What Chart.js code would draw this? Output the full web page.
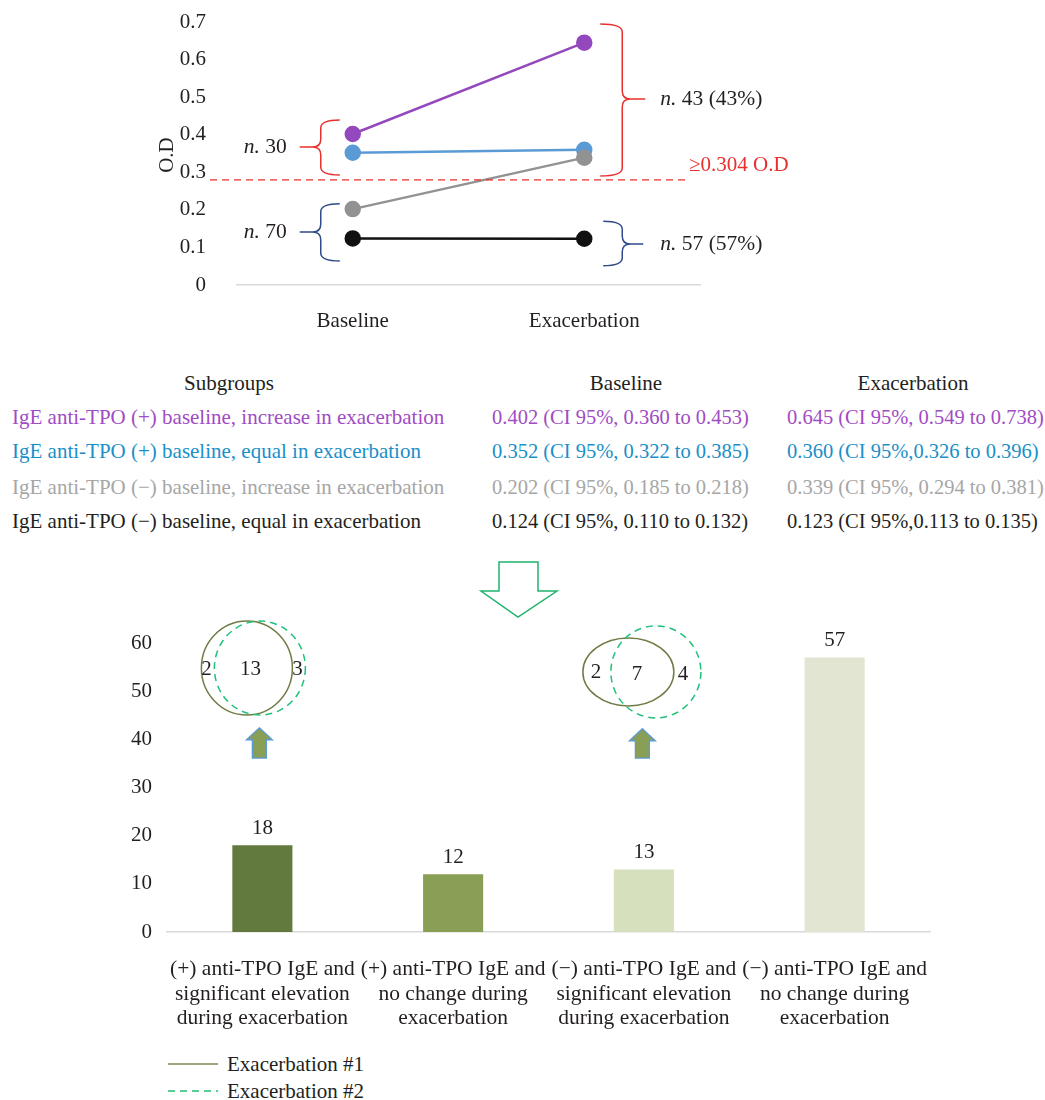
<!DOCTYPE html>
<html>
<head>
<meta charset="utf-8">
<script src="https://cdn.jsdelivr.net/npm/chart.js@4.4.1/dist/chart.umd.min.js"></script>
<style>
  body { margin: 0; background: #fff; font-family: "Liberation Serif", serif; color: #231f20; }
  #page { position: relative; width: 1045px; height: 1100px; }
  #odWrap { position: absolute; left: 0; top: 0; width: 1045px; height: 345px; }
  #barWrap { position: absolute; left: 0; top: 550px; width: 1045px; height: 490px; }
  .cell { position: absolute; font-size: 21px; white-space: nowrap; line-height: 24px; }
  .num { font-size: 20.5px; }
  #legend { position: absolute; left: 0; top: 1050px; width: 400px; height: 50px; }
</style>
</head>
<body>
<div id="page">
  <div id="odWrap"><canvas id="odCanvas"></canvas></div>
  <div id="table"></div>
  <div id="barWrap"><canvas id="barCanvas"></canvas></div>
  <div id="legend"></div>
</div>
<script>
// top panel: O.D per subgroup
const timepoints = ["Baseline", "Exacerbation"];
const subgroups = [
  "IgE anti-TPO (+) baseline, increase in exacerbation",
  "IgE anti-TPO (+) baseline, equal in exacerbation",
  "IgE anti-TPO (\u2212) baseline, increase in exacerbation",
  "IgE anti-TPO (\u2212) baseline, equal in exacerbation"
];
const baselineOD = [0.402, 0.352, 0.202, 0.124];
const exacerbationOD = [0.645, 0.360, 0.339, 0.123];
const baselineCI = ["0.360 to 0.453", "0.322 to 0.385", "0.185 to 0.218", "0.110 to 0.132"];
const exacerbationCI = ["0.549 to 0.738", "0.326 to 0.396", "0.294 to 0.381", "0.113 to 0.135"];
const lineColors = ["#9448bd", "#5b9bd5", "#929292", "#111111"];
const textColors = ["#a04cc4", "#1a8fc9", "#a6a6a6", "#231f20"];
const odTicks = [0, 0.1, 0.2, 0.3, 0.4, 0.5, 0.6, 0.7];
const cutoffLine = 0.28;

// bottom panel: patient counts
const countLabels = [
  ["(+) anti-TPO IgE and", "significant elevation", "during exacerbation"],
  ["(+) anti-TPO IgE and", "no change during", "exacerbation"],
  ["(\u2212) anti-TPO IgE and", "significant elevation", "during exacerbation"],
  ["(\u2212) anti-TPO IgE and", "no change during", "exacerbation"]
];
const patientCounts = [18, 12, 13, 57];
const barColors = ["#627a3e", "#8a9f56", "#d7e0bc", "#e1e5d1"];
const countTicks = [0, 10, 20, 30, 40, 50, 60];
const vennFirst = [2, 13, 3];
const vennSecond = [2, 7, 4];

const RED = "#e8312f";
const NAVY = "#2f4b8a";
const FONT = '"Liberation Serif", serif';
const INK = "#231f20";

// ---- table -----
const table = document.getElementById("table");
function cell(text, x, y, color, align, cls) {
  const d = document.createElement("div");
  d.className = "cell" + (cls ? " " + cls : "");
  d.textContent = text;
  d.style.top = (y - 12) + "px";
  d.style.color = color;
  if (align === "center") {
    d.style.left = (x - 200) + "px";
    d.style.width = "400px";
    d.style.textAlign = "center";
  } else {
    d.style.left = x + "px";
  }
  table.appendChild(d);
}
cell("Subgroups", 229, 383, INK, "center");
cell("Baseline", 626, 383, INK, "center");
cell("Exacerbation", 913, 383, INK, "center");
const rowY = [417, 451, 487, 521];
subgroups.forEach((s, i) => {
  cell(s, 12, rowY[i], textColors[i]);
  cell(baselineOD[i].toFixed(3) + " (CI 95%, " + baselineCI[i] + ")", 492, rowY[i], textColors[i], null, "num");
  const sep = (i % 2 === 1) ? "," : ", ";
  cell(exacerbationOD[i].toFixed(3) + " (CI 95%" + sep + exacerbationCI[i] + ")", 787, rowY[i], textColors[i], null, "num");
});

// ---- helpers ----
function brace(ctx, xArm, xMid, xTip, yTop, yBot, yTip, color) {
  const dir = xTip < xMid ? -1 : 1;
  const r = 8;
  ctx.save();
  ctx.strokeStyle = color;
  ctx.lineWidth = 1.5;
  ctx.beginPath();
  ctx.moveTo(xArm, yTop);
  ctx.quadraticCurveTo(xMid, yTop, xMid, yTop + r);
  ctx.lineTo(xMid, yTip - r);
  ctx.quadraticCurveTo(xMid, yTip, xMid + dir * 8, yTip);
  ctx.quadraticCurveTo(xMid, yTip, xMid, yTip + r);
  ctx.lineTo(xMid, yBot - r);
  ctx.quadraticCurveTo(xMid, yBot, xArm, yBot);
  ctx.moveTo(xMid + dir * 8, yTip);
  ctx.lineTo(xTip, yTip);
  ctx.stroke();
  ctx.restore();
}
function nLabel(ctx, x, y, num, align) {
  ctx.save();
  ctx.fillStyle = INK;
  ctx.textBaseline = "middle";
  ctx.textAlign = "left";
  ctx.font = "italic 21.5px " + FONT;
  const w1 = ctx.measureText("n.").width;
  ctx.font = "21.5px " + FONT;
  const rest = " " + num;
  const w2 = ctx.measureText(rest).width;
  const x0 = align === "right" ? x - w1 - w2 : x;
  ctx.font = "italic 21.5px " + FONT;
  ctx.fillText("n.", x0, y);
  ctx.font = "21.5px " + FONT;
  ctx.fillText(rest, x0 + w1, y);
  ctx.restore();
}

const odAnnotations = {
  id: "odAnnotations",
  afterDraw(chart) {
    const ctx = chart.ctx;
    const x = chart.scales.x, y = chart.scales.y;
    const xb = x.getPixelForValue(0), xe = x.getPixelForValue(1);
    // cutoff
    const yc = y.getPixelForValue(cutoffLine);
    ctx.save();
    ctx.strokeStyle = RED;
    ctx.lineWidth = 1.3;
    ctx.setLineDash([7, 5]);
    ctx.beginPath();
    ctx.moveTo(210, yc);
    ctx.lineTo(686, yc);
    ctx.stroke();
    ctx.restore();
    ctx.save();
    ctx.fillStyle = RED;
    ctx.font = "21px " + FONT;
    ctx.textBaseline = "middle";
    ctx.fillText("\u22650.304 O.D", 689, yc - 14);
    ctx.restore();
    // braces
    const P = v => y.getPixelForValue(v);
    brace(ctx, xb - 13, xb - 32, xb - 53, P(0.439), P(0.293), P(0.367), RED);
    brace(ctx, xb - 13, xb - 32, xb - 53, P(0.216), P(0.064), P(0.141), NAVY);
    brace(ctx, xe + 16, xe + 38, xe + 61, P(0.695), P(0.290), P(0.495), RED);
    brace(ctx, xe + 19, xe + 38, xe + 59, P(0.170), P(0.051), P(0.109), NAVY);
    nLabel(ctx, xb - 66, P(0.367), "30", "right");
    nLabel(ctx, xb - 66, P(0.141), "70", "right");
    nLabel(ctx, xe + 76, P(0.495), "43 (43%)", "left");
    nLabel(ctx, xe + 76, P(0.109), "57 (57%)", "left");
    // y title
    ctx.save();
    ctx.translate(167, 155);
    ctx.rotate(-Math.PI / 2);
    ctx.font = "21px " + FONT;
    ctx.fillStyle = INK;
    ctx.textAlign = "center";
    ctx.textBaseline = "middle";
    ctx.fillText("O.D", 0, 0);
    ctx.restore();
  }
};

const drawOrder = [1, 2, 0, 3];
new Chart(document.getElementById("odCanvas"), {
  type: "line",
  data: {
    labels: timepoints,
    datasets: subgroups.map((s, i) => ({
      label: s,
      data: [baselineOD[i], exacerbationOD[i]],
      borderColor: lineColors[i],
      backgroundColor: lineColors[i],
      pointBackgroundColor: lineColors[i],
      pointBorderColor: lineColors[i],
      pointRadius: 7,
      borderWidth: 2.5,
      order: drawOrder[i]
    }))
  },
  options: {
    responsive: true,
    maintainAspectRatio: false,
    animation: false,
    layout: { padding: { left: 150, right: 345, top: 22, bottom: 0 } },
    plugins: { legend: { display: false }, tooltip: { enabled: false } },
    scales: {
      x: {
        offset: true,
        grid: { display: false },
        border: { color: "#d9d9d9", width: 1.5 },
        ticks: { color: INK, font: { family: FONT, size: 21 }, padding: 16 },
        afterFit: s => { s.height = 60; }
      },
      y: {
        min: 0, max: 0.7,
        afterBuildTicks: s => { s.ticks = odTicks.map(v => ({ value: v })); },
        // tick gap via tickLength so the label padding doesn't push the plot top down
        grid: { display: false, drawTicks: true, tickLength: 31 },
        border: { display: false },
        ticks: {
          color: INK, font: { family: FONT, size: 21 }, padding: 0,
          callback: v => v === 0 ? "0" : v.toFixed(1)
        },
        afterFit: s => { s.width = 87; }
      }
    }
  },
  plugins: [odAnnotations]
});

// ---- bottom chart ----
function arrowUp(ctx, cx, yTip, yBase) {
  ctx.save();
  ctx.fillStyle = "#8a9f56";
  ctx.strokeStyle = "#5b9bd5";
  ctx.lineWidth = 1.3;
  ctx.beginPath();
  ctx.moveTo(cx, yTip);
  ctx.lineTo(cx + 13, yTip + 12);
  ctx.lineTo(cx + 7, yTip + 12);
  ctx.lineTo(cx + 7, yBase);
  ctx.lineTo(cx - 7, yBase);
  ctx.lineTo(cx - 7, yTip + 12);
  ctx.lineTo(cx - 13, yTip + 12);
  ctx.closePath();
  ctx.fill();
  ctx.stroke();
  ctx.restore();
}
function ring(ctx, cx, cy, rx, ry, color, dashed) {
  ctx.save();
  ctx.strokeStyle = color;
  ctx.lineWidth = 1.5;
  if (dashed) ctx.setLineDash([7, 5]);
  ctx.beginPath();
  ctx.ellipse(cx, cy, rx, ry, 0, 0, Math.PI * 2);
  ctx.stroke();
  ctx.restore();
}
function txt(ctx, s, x, y) {
  ctx.save();
  ctx.fillStyle = INK;
  ctx.font = "21px " + FONT;
  ctx.textAlign = "center";
  ctx.textBaseline = "middle";
  ctx.fillText(s, x, y);
  ctx.restore();
}

const barAnnotations = {
  id: "barAnnotations",
  afterDraw(chart) {
    const ctx = chart.ctx;
    const x = chart.scales.x, y = chart.scales.y;
    const meta = chart.getDatasetMeta(0);
    meta.data.forEach((bar, i) => {
      txt(ctx, String(patientCounts[i]), bar.x, bar.y - 17);
    });
    // big down arrow
    ctx.save();
    ctx.strokeStyle = "#1fb36b";
    ctx.lineWidth = 1.5;
    ctx.beginPath();
    ctx.moveTo(499, 12); ctx.lineTo(538, 12); ctx.lineTo(538, 41);
    ctx.lineTo(557, 41); ctx.lineTo(518, 67); ctx.lineTo(481, 41);
    ctx.lineTo(499, 41); ctx.closePath();
    ctx.stroke();
    ctx.restore();
    // venn 1
    const c1 = x.getPixelForValue(0);
    const vy = y.getPixelForValue(54.8);
    ring(ctx, c1 - 15.5, vy, 45.5, 47, "#6e7d45", false);
    ring(ctx, c1 - 2.5, vy, 45.5, 47, "#20c07a", true);
    txt(ctx, String(vennFirst[0]), c1 - 56, vy + 1);
    txt(ctx, String(vennFirst[1]), c1 - 12, vy + 1);
    txt(ctx, String(vennFirst[2]), c1 + 35, vy + 1);
    arrowUp(ctx, c1 - 3, y.getPixelForValue(42.4), y.getPixelForValue(36.1));
    // venn 2
    const c3 = x.getPixelForValue(2);
    const vy2 = y.getPixelForValue(54.0);
    ring(ctx, c3 - 15.5, vy2, 45.5, 34, "#6e7d45", false);
    ring(ctx, c3 + 12, vy2, 45, 46, "#20c07a", true);
    txt(ctx, String(vennSecond[0]), c3 - 48, vy2 + 1);
    txt(ctx, String(vennSecond[1]), c3 - 7, vy2 + 3);
    txt(ctx, String(vennSecond[2]), c3 + 39, vy2 + 3);
    arrowUp(ctx, c3 - 1.5, y.getPixelForValue(42.2), y.getPixelForValue(36.1));
  }
};

new Chart(document.getElementById("barCanvas"), {
  type: "bar",
  data: {
    labels: countLabels,
    datasets: [{
      label: "patients",
      data: patientCounts,
      backgroundColor: barColors,
      borderWidth: 0,
      categoryPercentage: 1,
      barPercentage: 0.315
    }]
  },
  options: {
    responsive: true,
    maintainAspectRatio: false,
    animation: false,
    layout: { padding: { left: 100, right: 115, top: 93, bottom: 0 } },
    plugins: { legend: { display: false }, tooltip: { enabled: false } },
    scales: {
      x: {
        grid: { display: false },
        border: { color: "#d9d9d9", width: 1.5 },
        ticks: { color: INK, font: { family: FONT, size: 21.5, lineHeight: 1.15 }, padding: 17, maxRotation: 0, autoSkip: false },
        afterFit: s => { s.height = 108; }
      },
      y: {
        min: 0, max: 60,
        afterBuildTicks: s => { s.ticks = countTicks.map(v => ({ value: v })); },
        grid: { display: false },
        border: { display: false },
        ticks: { color: INK, font: { family: FONT, size: 21 }, padding: 7 },
        afterFit: s => { s.width = 67; }
      }
    }
  },
  plugins: [barAnnotations]
});

// ---- legend ----
document.getElementById("legend").innerHTML =
  '<svg width="400" height="50" style="position:absolute;left:0;top:0">' +
  '<line x1="168" y1="14" x2="218" y2="14" stroke="#7a8a4e" stroke-width="1.5"/>' +
  '<line x1="168" y1="41" x2="218" y2="41" stroke="#1fbf73" stroke-width="1.5" stroke-dasharray="7,5"/>' +
  '<text x="227" y="21" font-family="Liberation Serif" font-size="21" fill="' + INK + '">Exacerbation #1</text>' +
  '<text x="227" y="48" font-family="Liberation Serif" font-size="21" fill="' + INK + '">Exacerbation #2</text>' +
  '</svg>';
</script>
</body>
</html>
